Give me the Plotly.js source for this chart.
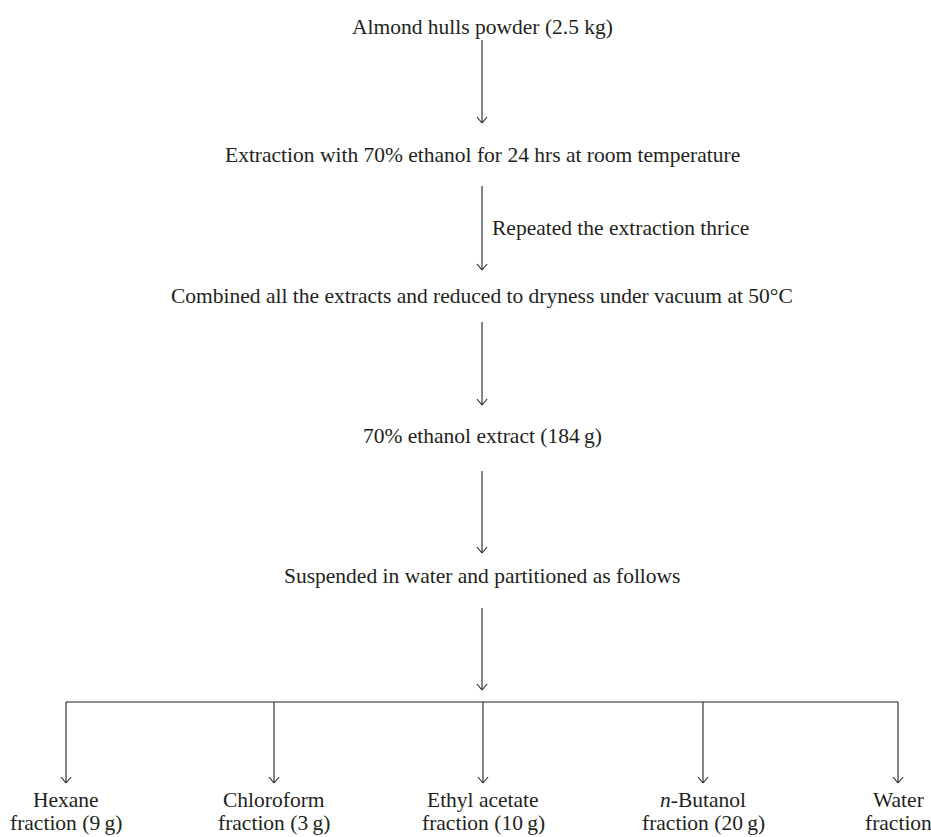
<!DOCTYPE html>
<html>
<head>
<meta charset="utf-8">
<script src="https://cdn.plot.ly/plotly-3.0.1.min.js"></script>
<style>html,body{margin:0;padding:0;background:#fff;}#chart{width:931px;height:837px;}</style>
</head>
<body>
<div id="chart"></div>
<script>
// Flowchart content
const steps = [
  "Almond hulls powder (2.5 kg)",
  "Extraction with 70% ethanol for 24 hrs at room temperature",
  "Combined all the extracts and reduced to dryness under vacuum at 50°C",
  "70% ethanol extract (184\u2009g)",
  "Suspended in water and partitioned as follows"
];
const stepY = [27, 155, 296, 436, 576];
const stepX = [482, 482, 482, 482, 482];

const arrowTop = [40, 186, 322, 471, 608];
const arrowBottom = [123, 270, 405, 553, 690];
const arrowNote = ["", "Repeated the extraction thrice", "", "", ""];

const fractionName = ["Hexane", "Chloroform", "Ethyl acetate", "<i>n</i>-Butanol", "Water"];
const fractionMass = ["fraction (9\u2009g)", "fraction (3\u2009g)", "fraction (10\u2009g)", "fraction (20\u2009g)", "fraction"];
const fractionX = [66, 274, 483, 703, 898];
const branchY = 702;
const fractionArrowBottom = 783;
const fractionNameY = 800;
const fractionMassY = 823;

const ink = "#231f20";
const font = "Liberation Serif, Times New Roman, serif";
const fsize = 21.5;
const head = 6;

const lx = [], ly = [];
function seg(x0, y0, x1, y1) { lx.push(x0, x1, null); ly.push(y0, y1, null); }
function arrow(x, y0, y1) {
  seg(x, y0, x, y1);
  seg(x - head * 0.85, y1 - head, x, y1);
  seg(x + head * 0.85, y1 - head, x, y1);
}
for (let i = 0; i < arrowTop.length; i++) arrow(stepX[i], arrowTop[i], arrowBottom[i]);
seg(fractionX[0], branchY, fractionX[fractionX.length - 1], branchY);
for (let i = 0; i < fractionX.length; i++) arrow(fractionX[i], branchY, fractionArrowBottom);

const traces = [{
  x: lx, y: ly, mode: "lines", type: "scatter",
  line: { color: ink, width: 1.1 }, hoverinfo: "skip", showlegend: false
}];

const tf = { family: font, size: fsize, color: ink };
const annotations = [];
steps.forEach((t, i) => annotations.push({
  x: stepX[i], y: stepY[i], xref: "x", yref: "y", text: t, showarrow: false,
  xanchor: "center", yanchor: "middle", font: tf
}));
arrowNote.forEach((t, i) => {
  if (!t) return;
  annotations.push({
    x: stepX[i] + 8, y: (arrowTop[i] + arrowBottom[i]) / 2, xref: "x", yref: "y", text: t,
    showarrow: false, xanchor: "left", yanchor: "middle", font: tf
  });
});
fractionX.forEach((x, i) => {
  annotations.push({
    x: x, y: fractionNameY, xref: "x", yref: "y", text: fractionName[i], showarrow: false,
    xanchor: "center", yanchor: "middle", font: tf
  });
  annotations.push({
    x: x, y: fractionMassY, xref: "x", yref: "y", text: fractionMass[i], showarrow: false,
    xanchor: "center", yanchor: "middle", font: tf
  });
});

const layout = {
  width: 931, height: 837,
  margin: { l: 0, r: 0, t: 0, b: 0 },
  paper_bgcolor: "#fff", plot_bgcolor: "#fff",
  xaxis: { range: [0, 931], visible: false, fixedrange: true },
  yaxis: { range: [837, 0], visible: false, fixedrange: true },
  annotations: annotations,
  showlegend: false
};
Plotly.newPlot("chart", traces, layout, { staticPlot: true, displayModeBar: false });
</script>
</body>
</html>
